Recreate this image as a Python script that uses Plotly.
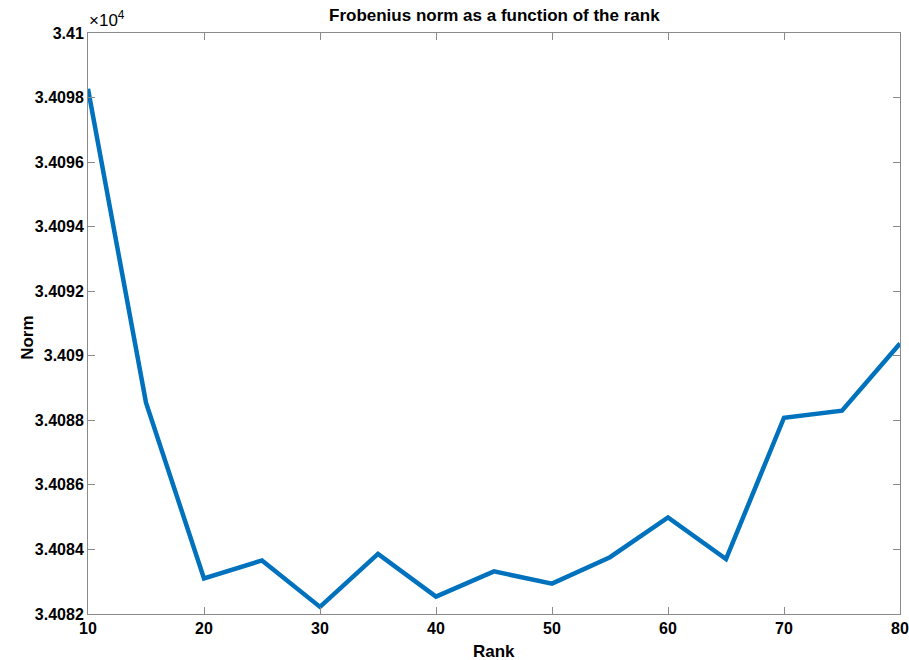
import plotly.graph_objects as go

rank = [10, 15, 20, 25, 30, 35, 40, 45, 50, 55, 60, 65, 70, 75, 80]
norm = [34098.27, 34088.55, 34083.10, 34083.66, 34082.22, 34083.86, 34082.54,
        34083.32, 34082.94, 34083.76, 34084.99, 34083.70, 34088.08, 34088.30, 34090.38]

x_ticks = [10, 20, 30, 40, 50, 60, 70, 80]
y_ticks = [34082, 34084, 34086, 34088, 34090, 34092, 34094, 34096, 34098, 34100]
y_tick_labels = ["3.4082", "3.4084", "3.4086", "3.4088", "3.409", "3.4092",
                 "3.4094", "3.4096", "3.4098", "3.41"]

FONT = "Liberation Sans, Arial, Helvetica, sans-serif"
AX = "#8a8a8a"
W, H = 909, 660
L, R, T, B = 87.5, 8.5, 32.5, 46

fig = go.Figure()
fig.add_trace(go.Scatter(x=rank, y=norm, mode="lines",
                         line=dict(color="#0072BD", width=4.5),
                         showlegend=False, hoverinfo="skip"))

fig.update_layout(
    width=W, height=H,
    margin=dict(l=L, r=R, t=T, b=B, autoexpand=False),
    paper_bgcolor="white", plot_bgcolor="white",
    font=dict(family=FONT, size=15, color="black", weight="bold"),
)
fig.update_xaxes(
    range=[10, 80], tickvals=x_ticks, ticktext=[str(v) for v in x_ticks],
    showgrid=False, zeroline=False, showline=True, linecolor=AX, linewidth=1,
    mirror="ticks", ticks="inside", ticklen=7, tickcolor=AX, tickwidth=1,
    tickfont=dict(family=FONT, size=16, color="black", weight="bold"),
    automargin=False,
)
fig.update_yaxes(
    range=[34082, 34100], tickvals=y_ticks, ticktext=y_tick_labels,
    showgrid=False, zeroline=False, showline=True, linecolor=AX, linewidth=1,
    mirror="ticks", ticks="inside", ticklen=7, tickcolor=AX, tickwidth=1,
    tickfont=dict(family=FONT, size=16, color="black", weight="bold"),
    automargin=False,
)

def text_at(txt, px, py, size, angle=0, weight="bold", xanchor="center", yanchor="middle"):
    fig.add_annotation(text=txt, xref="paper", yref="paper",
                       x=(px - L) / (W - L - R),
                       y=(H - B - py) / (H - T - B),
                       xanchor=xanchor, yanchor=yanchor, showarrow=False,
                       textangle=angle,
                       font=dict(family=FONT, size=size, color="black", weight=weight))

text_at("Frobenius norm as a function of the rank", 494, 15, 17)
text_at("Rank", 494, 652, 17)
text_at("Norm", 27, 338, 17, angle=-90)
text_at("×10<sup>4</sup>", 86, 31, 17, weight="normal", xanchor="left", yanchor="bottom")

fig.write_html("out.html", config={"displayModeBar": False},
               post_script="document.body.style.margin='0';document.body.style.overflow='hidden';")
